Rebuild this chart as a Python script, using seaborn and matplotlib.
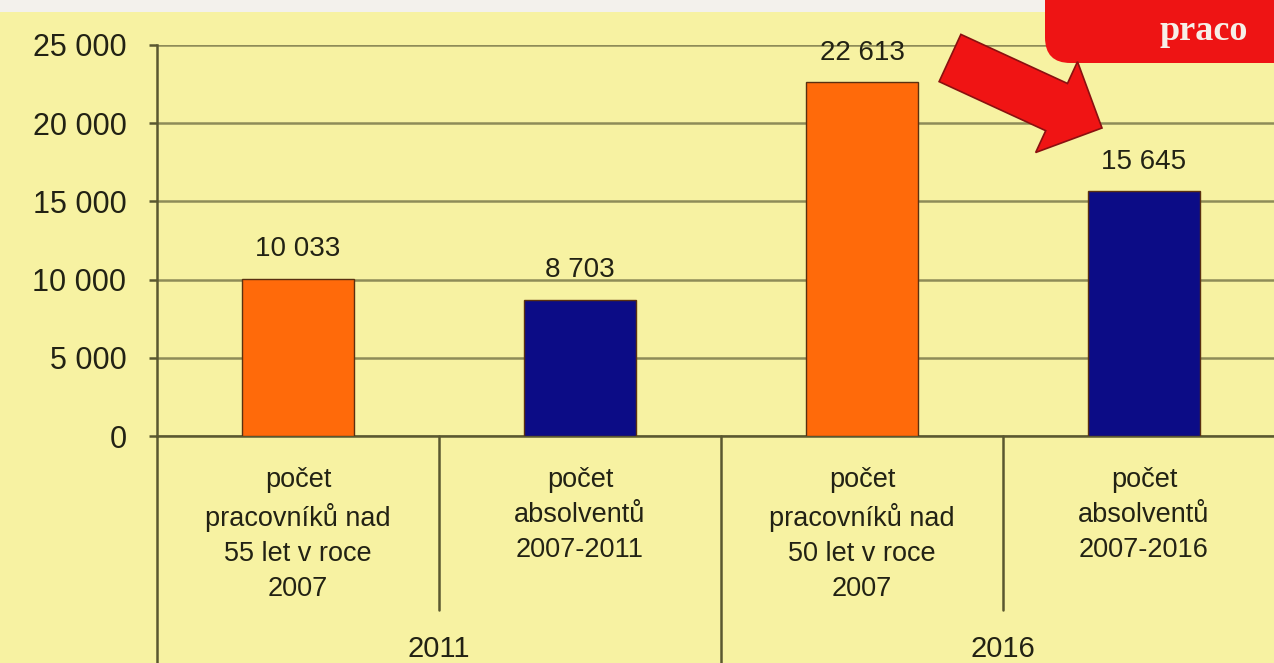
import numpy as np
import pandas as pd
import seaborn as sns
import matplotlib.pyplot as plt
from matplotlib.patches import Polygon, FancyBboxPatch, Rectangle
from matplotlib.transforms import blended_transform_factory

# data
categories = [
    "počet\npracovníků nad\n55 let v roce\n2007",
    "počet\nabsolventů\n2007-2011",
    "počet\npracovníků nad\n50 let v roce\n2007",
    "počet\nabsolventů\n2007-2016",
]
values = [10033, 8703, 22613, 15645]
kinds = ["pracovnici", "absolventi", "pracovnici", "absolventi"]
groups = ["2011", "2016"]
yticks = [0, 5000, 10000, 15000, 20000, 25000]

BG = "#F7F2A2"
ORANGE = "#FF6A0A"
NAVY = "#0C0C86"
GRID = "#8E8C58"
DARK = "#5A5830"
TXT = "#222214"

sns.set_style("white")
plt.rcParams["font.family"] = ["Liberation Sans", "DejaVu Sans"]

W, H = 1274, 663
fig = plt.figure(figsize=(W / 100, H / 100), dpi=100, facecolor=BG)
ax = fig.add_axes([157 / W, 227 / H, 1128 / W, 391 / H])
ax.set_facecolor(BG)

df = pd.DataFrame({"label": categories, "value": values, "kind": kinds})
sns.barplot(data=df, x="label", y="value", hue="kind",
            palette={"pracovnici": ORANGE, "absolventi": NAVY},
            saturation=1, width=0.4, edgecolor="#5A3010", linewidth=1.0,
            legend=False, ax=ax, zorder=3)

ax.set_xlim(-0.5, 3.5)
ax.set_ylim(0, 25000)
ax.set_yticks(yticks)
ax.set_yticklabels([f"{v:,}".replace(",", " ") for v in yticks])
ax.yaxis.grid(True, color=GRID, linewidth=1.8, zorder=0)
ax.set_xlabel("")
ax.set_ylabel("")

for s in ["top", "right"]:
    ax.spines[s].set_visible(False)
for s in ["left", "bottom"]:
    ax.spines[s].set_color(DARK)
    ax.spines[s].set_linewidth(1.8)

ax.tick_params(axis="y", left=True, length=6, width=1.8, color=DARK,
               labelsize=22, labelcolor=TXT, pad=16)
ax.tick_params(axis="x", length=0, labelsize=19.5, labelcolor=TXT, pad=22)
for t in ax.get_xticklabels():
    t.set_linespacing(1.45)
    t.set_multialignment("center")

for c in ax.containers:
    ax.bar_label(c, labels=[f"{v:,.0f}".replace(",", " ") for v in c.datavalues],
                 padding=12, fontsize=20, color=TXT, clip_on=False)

# separators for the two-level category axis
tr = blended_transform_factory(ax.transData, ax.transAxes)
ax.plot([-0.5, -0.5], [0, -0.58], transform=tr, color=DARK, lw=1.8, clip_on=False)
ax.plot([1.5, 1.5], [0, -0.58], transform=tr, color=DARK, lw=1.8, clip_on=False)
ax.plot([0.5, 0.5], [0, -0.445], transform=tr, color=DARK, lw=1.8, clip_on=False)
ax.plot([2.5, 2.5], [0, -0.445], transform=tr, color=DARK, lw=1.8, clip_on=False)
for i, g in enumerate(groups):
    ax.text(2 * i + 0.5, -0.545, g, transform=tr, ha="center", va="center",
            fontsize=21, color=TXT)

# light strip at the very top
fig.patches.append(Rectangle((0, 1 - 12 / H), 1, 12 / H, transform=fig.transFigure,
                             facecolor="#F3F1EC", edgecolor="none", zorder=5))

# red callout box (cut off at the right edge)
box = FancyBboxPatch((1045 / W, 1 - 63 / H), 300 / W, 90 / H,
                     boxstyle="round,pad=0,rounding_size=0.02",
                     transform=fig.transFigure, facecolor="#EE1414",
                     edgecolor="none", zorder=6, mutation_aspect=W / H)
fig.patches.append(box)
fig.text(1160 / W, 1 - 40 / H, "praco", color="#F6F0E8", fontsize=26,
         fontweight="bold", family=["Liberation Serif", "DejaVu Serif"], zorder=7)

# red block arrow
S = np.array([950.0, 58.0])
E = np.array([1102.0, 128.0])
u = (E - S) / np.linalg.norm(E - S)
n = np.array([-u[1], u[0]])
w, hw, hl = 26, 50, 50
B = E - hl * u
pts = [S + w * n, B + w * n, B + hw * n, E, B - hw * n, B - w * n, S - w * n]
pts = [(p[0] / W, 1 - p[1] / H) for p in pts]
fig.patches.append(Polygon(pts, closed=True, transform=fig.transFigure,
                           facecolor="#F01414", edgecolor="#8A1010", lw=1.2, zorder=6))

fig.savefig("out.png", dpi=100, facecolor=BG)
